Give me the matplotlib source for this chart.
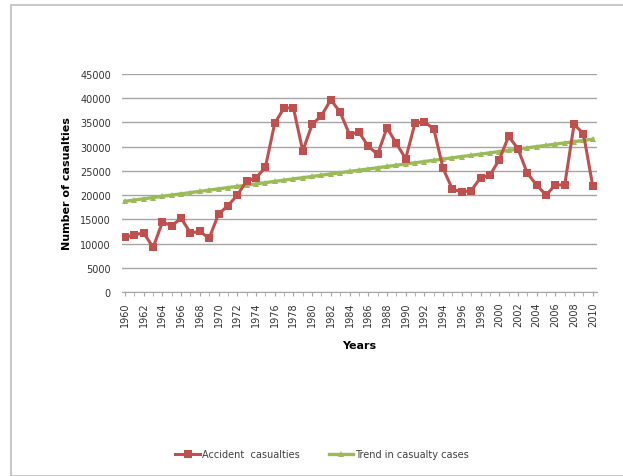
import numpy as np
import matplotlib.pyplot as plt
from matplotlib.patches import Rectangle

years = list(range(1960, 2011))
casualties = [11300, 11800, 12200, 9200, 14400, 13700, 15200, 12200, 12500, 11100,
              16100, 17800, 20000, 22900, 23600, 25700, 34800, 38000, 38000, 29100,
              34600, 36400, 39700, 37100, 32500, 33000, 30100, 28400, 33900, 30700,
              27500, 34900, 35100, 33700, 25500, 21200, 20700, 20900, 23600, 24100,
              27300, 32100, 29600, 24500, 22100, 20000, 22100, 22100, 34600, 32700,
              21800]
yticks = list(range(0, 45001, 5000))
xtick_years = list(range(1960, 2011, 2))

# linear trend line fitted to the casualty series (as the spreadsheet does)
slope, intercept = np.polyfit(years, casualties, 1)
trend = [slope * y + intercept for y in years]

W, H = 623, 477
fig = plt.figure(figsize=(W / 100, H / 100), dpi=100)
fig.patch.set_facecolor("white")

# chart border
fig.add_artist(Rectangle((11 / W, 0.5 / H), (W - 8) / W, (H - 6) / H,
                         transform=fig.transFigure, fill=False,
                         edgecolor="#bdbdbd", linewidth=1.2))

ax = fig.add_axes([122 / W, 1 - 293 / H, (597 - 122) / W, (293 - 75) / H])

red = "#c0504d"
green = "#9bbb59"
ax.plot(years, trend, color=green, linewidth=2.4, marker="^", markersize=5,
        markeredgewidth=0, label="Trend in casualty cases", zorder=3)
ax.plot(years, casualties, color=red, linewidth=2.2, marker="s", markersize=6,
        markeredgewidth=0, label="Accident  casualties", zorder=4)

ax.set_ylim(0, 45000)
ax.set_xlim(1959.68, 2010.45)
ax.set_yticks(yticks)
ax.set_yticklabels([str(v) for v in yticks], fontsize=7, color="#333333")
ax.yaxis.grid(True, color="#a6a6a6", linewidth=1)
ax.set_axisbelow(True)
ax.tick_params(axis="y", length=0, pad=8)

ax.set_xticks(years, minor=True)
ax.set_xticks(xtick_years)
ax.set_xticklabels([str(v) for v in xtick_years], rotation=90, fontsize=7,
                   color="#333333")
ax.tick_params(axis="x", which="both", length=3, color="#a6a6a6", pad=4)

for side in ["top", "right", "left"]:
    ax.spines[side].set_visible(False)
ax.spines["bottom"].set_color("#a6a6a6")

ax.set_ylabel("Number of casualties", fontsize=8, fontweight="bold", labelpad=6)
ax.set_xlabel("Years", fontsize=8, fontweight="bold", labelpad=10)

handles, labels = ax.get_legend_handles_labels()
leg = fig.legend(handles[::-1], labels[::-1], loc="center", ncol=2,
                 bbox_to_anchor=(322 / W, 1 - 455 / H), frameon=False,
                 fontsize=7, handlelength=2.5, columnspacing=3,
                 handletextpad=0.2)
for t in leg.get_texts():
    t.set_color("#404040")

fig.savefig("out.png", dpi=100)
